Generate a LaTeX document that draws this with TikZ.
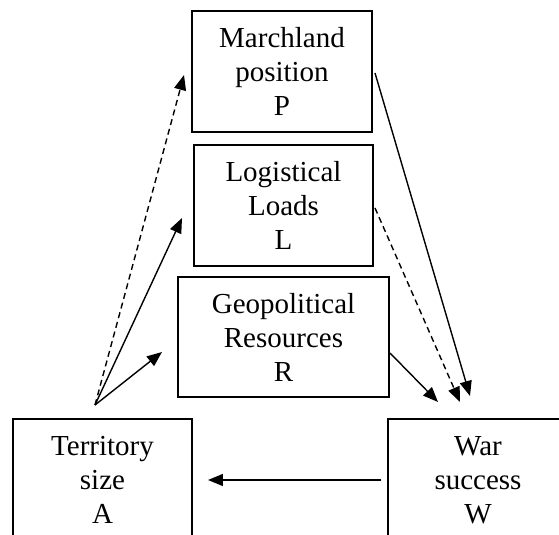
\documentclass[tikz,border=0pt]{standalone}
\usepackage{fontspec}
\setmainfont{Liberation Serif}
\usetikzlibrary{arrows.meta,calc}

\tikzset{
  factor/.style={draw, rectangle, line width=1pt, align=center, inner sep=0pt, font=\fontsize{14.5}{17}\selectfont},
  link/.style={->, line width=0.7pt},
}

\begin{document}
\begin{tikzpicture}[node distance=67pt, >={Triangle[length=7.5pt,width=6pt]}]
        \useasboundingbox (0,0) rectangle (279.5pt,-267.5pt);
        \node (P) [factor, minimum width=90pt, minimum height=60.5pt] at (141pt,-35.75pt) {Marchland\\position\\P};
        \node (L) [factor, minimum width=89.5pt, minimum height=60.5pt, below of=P, xshift=0.75pt] {Logistical\\Loads\\L};
        \node (R) [factor, minimum width=105.5pt, minimum height=60pt, below of=L, node distance=65.75pt] {Geopolitical\\Resources\\R};
        \node (A) [factor, minimum width=89.5pt, minimum height=61pt, below of=R, node distance=71.5pt, xshift=-90.5pt] {Territory\\size\\A};
        \node (W) [factor, minimum width=89.5pt, minimum height=61pt, right of=A, node distance=187.75pt] {War\\success\\W};

        \coordinate (aTop) at ($(A.north)+(-3.75pt,6.5pt)$);
        \coordinate (pIn) at ($(P.west)+(-3.5pt,-1.75pt)$);
        \coordinate (lIn) at ($(L.west)+(-5.5pt,-6.25pt)$);
        \coordinate (rIn) at ($(R.west)+(-7.5pt,-7.5pt)$);
        \coordinate (pOut) at ($(P.east)+(1pt,-0.75pt)$);
        \coordinate (lOut) at ($(L.east)+(0.5pt,-1.25pt)$);
        \coordinate (rOut) at ($(R.east)+(0pt,-8pt)$);
        \coordinate (wFromP) at ($(W.north)+(-4pt,11pt)$);
        \coordinate (wFromL) at ($(W.north)+(-9pt,8pt)$);
        \coordinate (wFromR) at ($(W.north)+(-20pt,8pt)$);

        \draw[link, dash pattern=on 3pt off 2pt] (aTop) -- (pIn);
        \draw[link] (aTop) -- (lIn);
        \draw[link] (aTop) -- (rIn);
        \draw[link] (pOut) -- (wFromP);
        \draw[link, dash pattern=on 3pt off 2pt] (lOut) -- (wFromL);
        \draw[link] (rOut) -- (wFromR);
        \draw[link, shorten <=3pt, shorten >=7.5pt] (W.west) -- (A.east);
    \end{tikzpicture}
\end{document}
